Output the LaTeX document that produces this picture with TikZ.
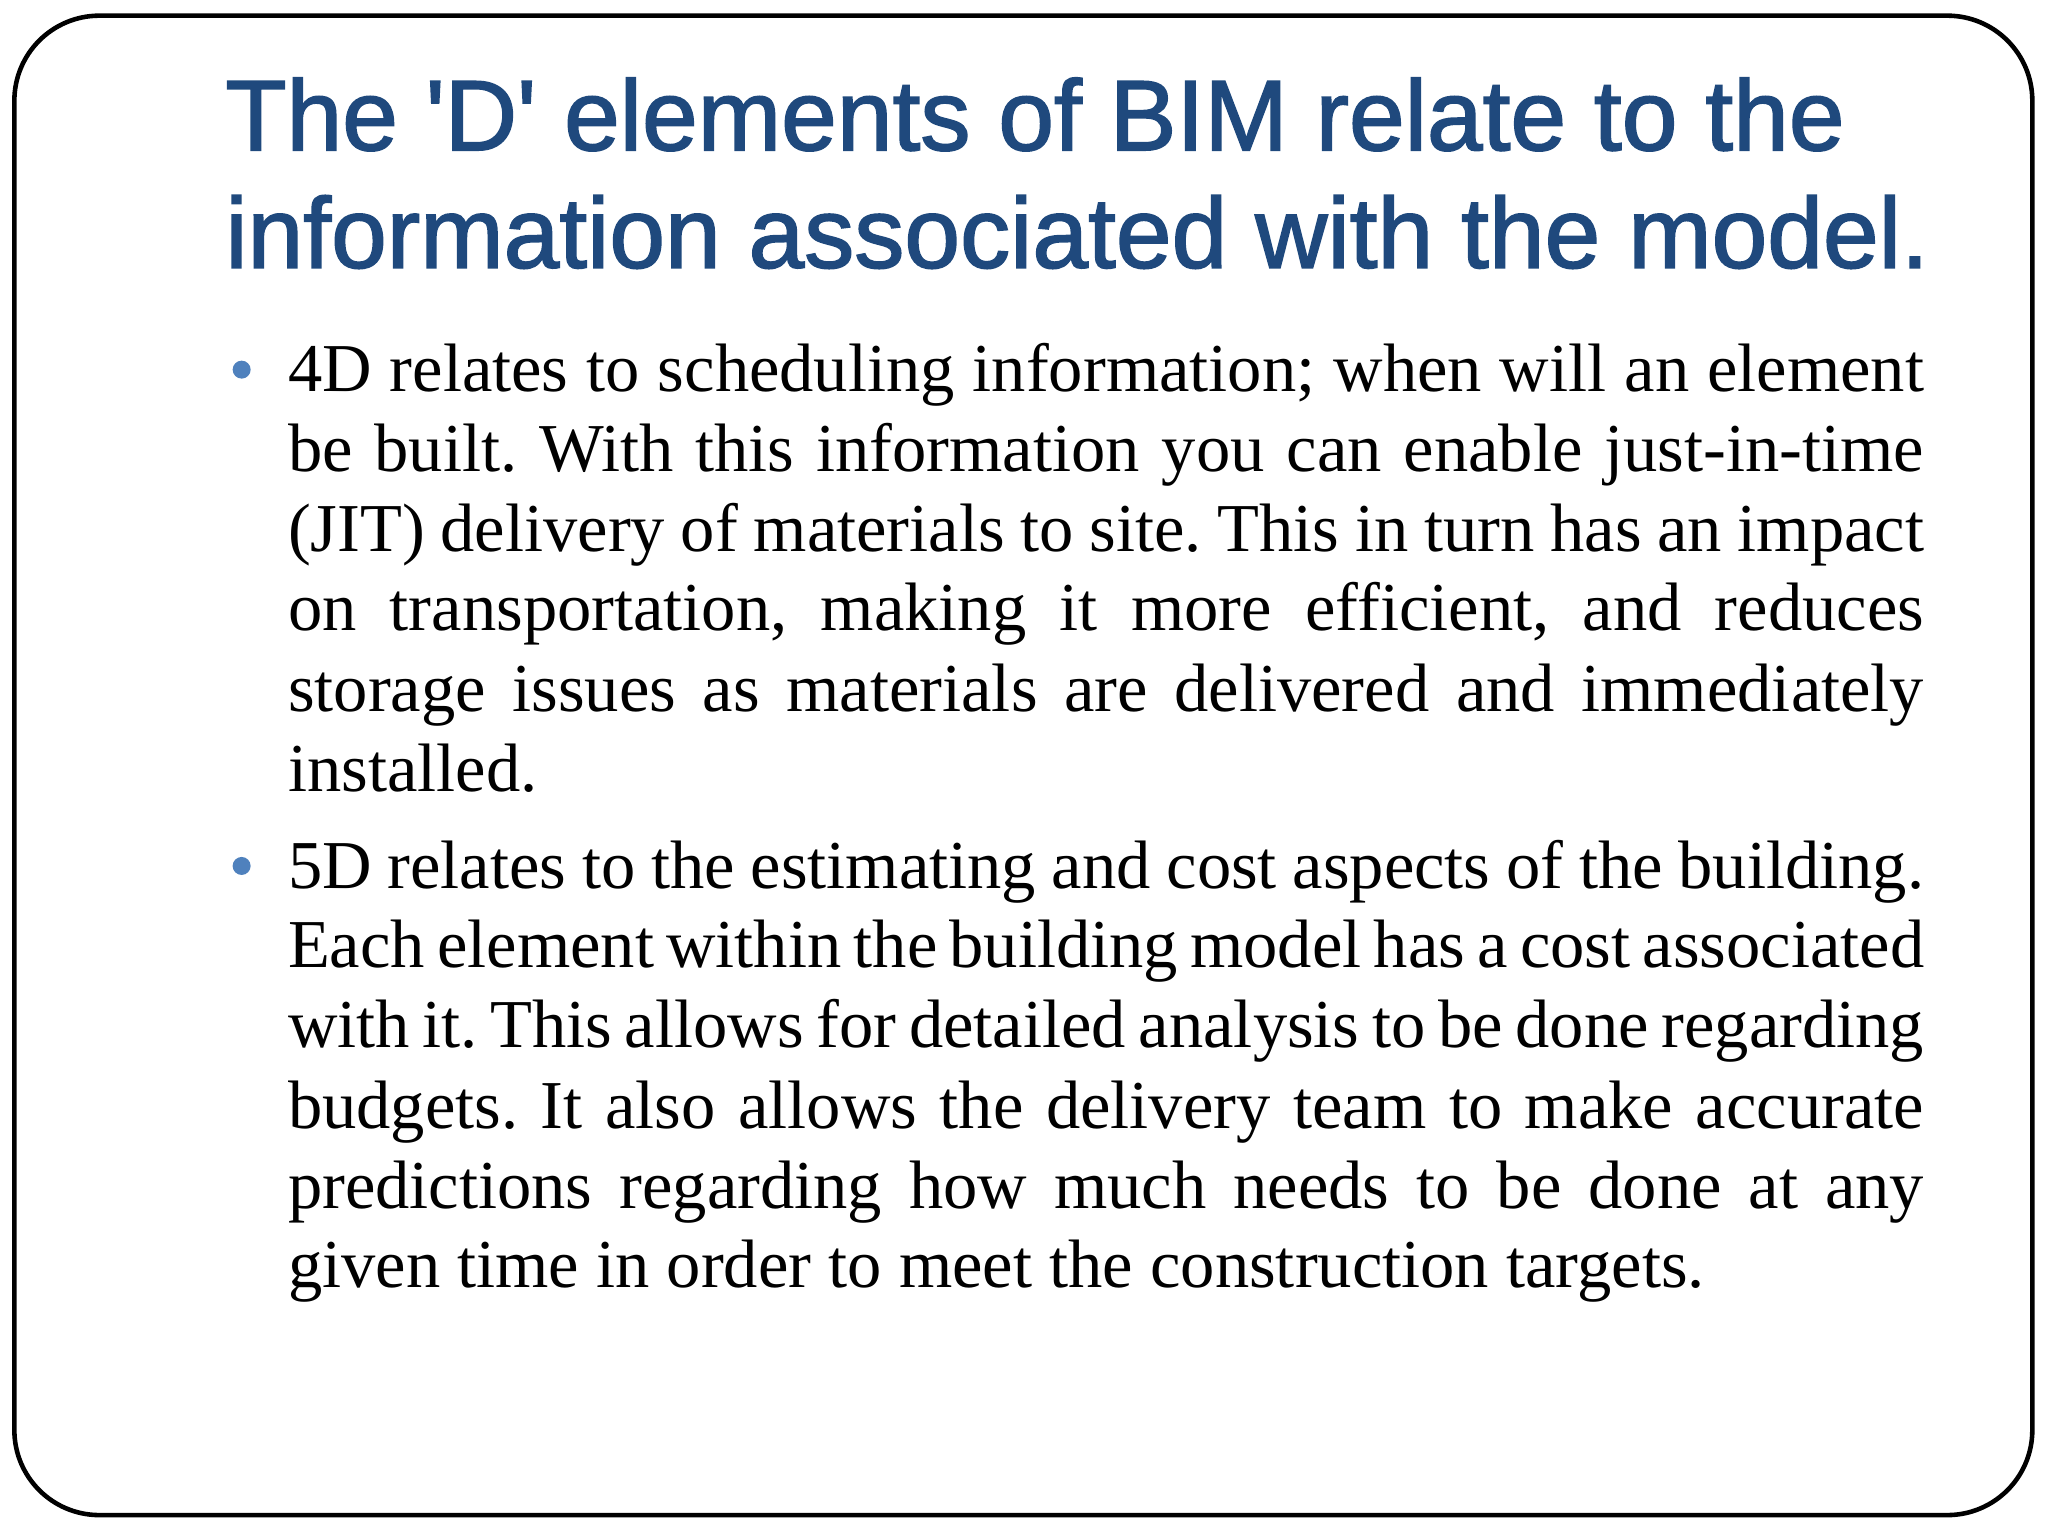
\documentclass[tikz,border=0pt]{standalone}
\usepackage{fontspec}
\setmainfont{Liberation Serif}
\newfontfamily\titlefont[FakeBold=1.6]{Liberation Sans}
\definecolor{titleblue}{RGB}{31,73,125}
\definecolor{bulletblue}{RGB}{79,129,189}
\frenchspacing
\begin{document}
\begin{tikzpicture}[x=0.01306cm,y=-0.01306cm,
  ttl/.style={anchor=base west,inner sep=0,font=\titlefont\fontsize{28.5}{34}\selectfont,text=titleblue},
  bl/.style={anchor=base west,inner sep=0,font=\fontsize{19.5}{23}\selectfont},
  dot/.style={circle,fill=bulletblue,inner sep=0,minimum size=0.18cm}]
\useasboundingbox (0,0) rectangle (1568,1176);
\draw[line width=1.3pt,rounded corners=0.85cm] (11,12) rectangle (1556,1160);
\node[ttl] (t1) at (172,115) {The 'D' elements of BIM relate to the};
\node[ttl] (t2) at (172,205) {information associated with the model.};
\node[dot] (b1) at (185,283) {};
\node[dot] (b2) at (185,663) {};
\newcommand{\jl}[1]{\makebox[16.36cm][s]{#1}}
\node[bl] (a1) at (220,300) {\jl{4D relates to scheduling information; when will an element}};
\node[bl] (a2) at (220,361) {\jl{be built. With this information you can enable just-in-time}};
\node[bl] (a3) at (220,422) {\jl{(JIT) delivery of materials to site. This in turn has an impact}};
\node[bl] (a4) at (220,483) {\jl{on transportation, making it more efficient, and reduces}};
\node[bl] (a5) at (220,545) {\jl{storage issues as materials are delivered and immediately}};
\node[bl] (a6) at (220,606) {installed.};
\node[bl] (c1) at (220,680) {\jl{5D relates to the estimating and cost aspects of the building.}};
\node[bl] (c2) at (220,741) {\jl{Each element within the building model has a cost associated}};
\node[bl] (c3) at (220,802) {\jl{with it. This allows for detailed analysis to be done regarding}};
\node[bl] (c4) at (220,864) {\jl{budgets. It also allows the delivery team to make accurate}};
\node[bl] (c5) at (220,925) {\jl{predictions regarding how much needs to be done at any}};
\node[bl] (c6) at (220,986) {given time in order to meet the construction targets.};
\end{tikzpicture}
\end{document}
